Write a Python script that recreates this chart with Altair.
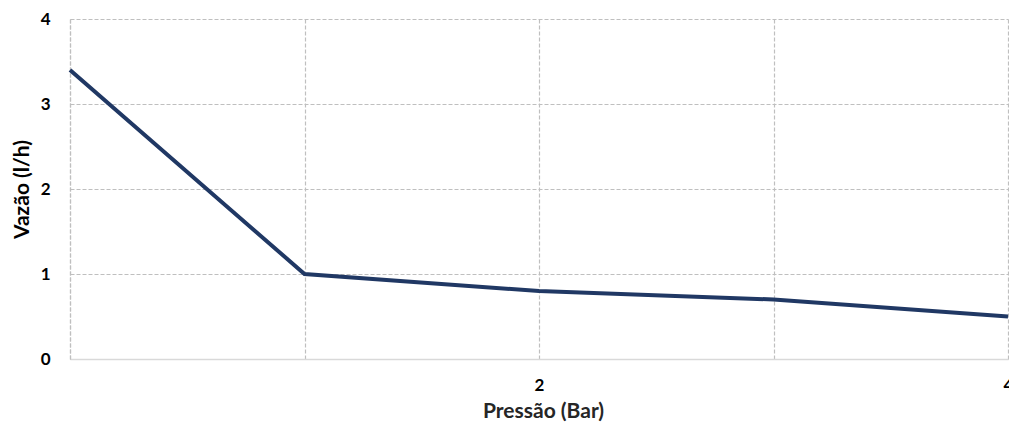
import altair as alt
import pandas as pd

pressao = [0, 1, 2, 3, 4]
vazao = [3.4, 1.0, 0.8, 0.7, 0.5]
x_ticks = [0, 1, 2, 3, 4]
y_ticks = [0, 1, 2, 3, 4]

df = pd.DataFrame({"Pressão": pressao, "Vazão": vazao})

FONT = "Lato"

chart = alt.Chart(df).mark_line(color="#203864", strokeWidth=4).encode(
    x=alt.X("Pressão:Q", title="Pressão (Bar)",
            scale=alt.Scale(domain=[0, 4], nice=False, zero=False),
            axis=alt.Axis(values=x_ticks,
                          labelExpr="datum.value == 2 || datum.value == 4 ? datum.label : ''",
                          grid=True, gridDash=[4, 2], gridColor="#bfbfbf", gridWidth=1.2,
                          ticks=False, domain=True, domainColor="#d9d9d9", domainWidth=1.5,
                          labelFont=FONT, labelFontSize=17, labelFontWeight="bold",
                          labelColor="#000000", labelPadding=18, labelFlush=False,
                          titleFont=FONT, titleFontSize=21, titleFontWeight="bold",
                          titleColor="#262626", titlePadding=7, titleX=473)),
    y=alt.Y("Vazão:Q", title="Vazão (l/h)",
            scale=alt.Scale(domain=[0, 4], nice=False),
            axis=alt.Axis(values=y_ticks, format="d",
                          grid=True, gridDash=[4, 2], gridColor="#bfbfbf", gridWidth=1.2,
                          ticks=False, domain=True, domainColor="#bfbfbf",
                          domainDash=[4, 2], domainWidth=1.2,
                          labelFont=FONT, labelFontSize=17, labelFontWeight="bold",
                          labelColor="#000000", labelPadding=20,
                          titleFont=FONT, titleFontSize=21, titleFontWeight="bold",
                          titleColor="#000000", titlePadding=8)),
).properties(
    width=938, height=340,
    autosize=alt.AutoSizeParams(type="none"),
    padding={"left": 62, "top": 11, "right": 1, "bottom": 63},
).configure_view(stroke=None)

chart.save("out.html", embed_options={"renderer": "svg", "actions": False})
